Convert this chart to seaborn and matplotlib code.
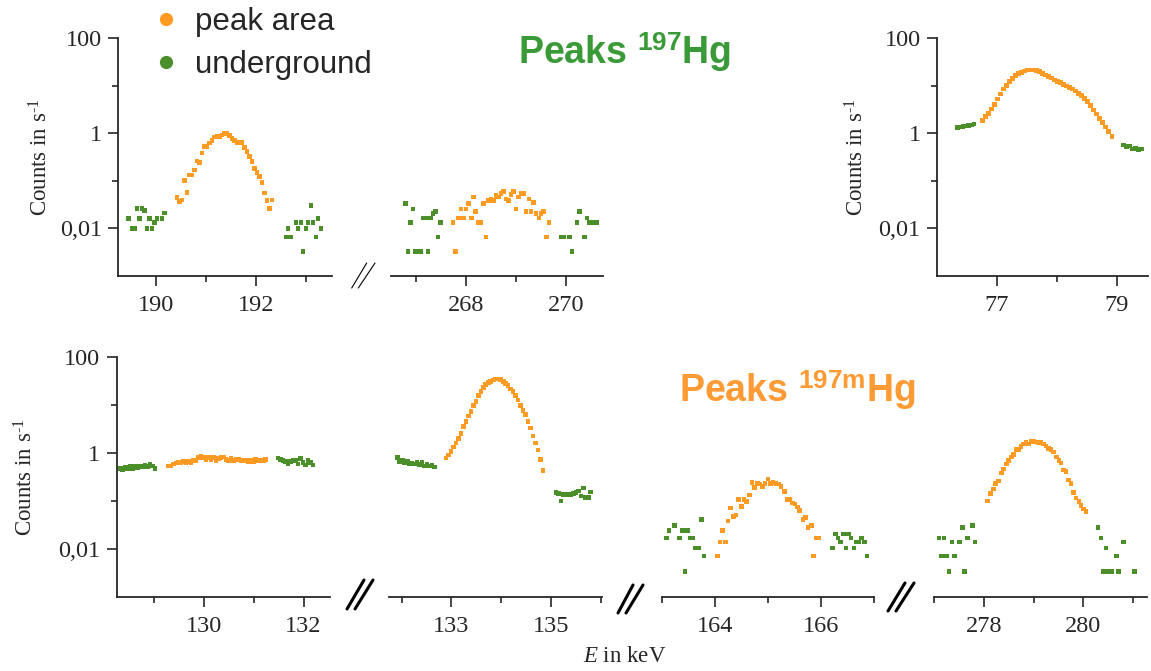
import numpy as np
import pandas as pd
import matplotlib
matplotlib.use("Agg")
import matplotlib.pyplot as plt
import seaborn as sns
from matplotlib.ticker import FixedLocator, FixedFormatter, NullFormatter
from matplotlib.lines import Line2D

# ---------------- data (energies in keV, log10 of count rate in 1/s) ----------------
# Panel 1: 197Hg, 191 keV
p1_bgL_E = [189.45, 189.52, 189.57, 189.62, 189.67, 189.72, 189.77, 189.82, 189.87, 189.92, 189.97, 190.02, 190.12, 190.17]
p1_bgL_lg = [-1.79, -2.0, -2.0, -1.58, -1.79, -1.58, -1.63, -2.0, -1.79, -2.0, -1.87, -1.79, -1.79, -1.68]
p1_pk_E = [190.42, 190.47, 190.52, 190.57, 190.62, 190.67, 190.72, 190.77, 190.82, 190.87, 190.92, 190.97, 191.02,
           191.07, 191.12, 191.17, 191.22, 191.27, 191.32, 191.37, 191.42, 191.47, 191.52, 191.57, 191.62, 191.67,
           191.72, 191.77, 191.82, 191.87, 191.92, 191.97, 192.02, 192.07, 192.12, 192.17, 192.22, 192.27, 192.32]
p1_pk_lg = [-1.35, -1.44, -1.40, -1.00, -1.24, -0.88, -0.88, -0.77, -0.58, -0.61, -0.42, -0.28, -0.28, -0.21, -0.15,
            -0.08, -0.07, -0.07, -0.04, 0.0, 0.0, -0.05, -0.11, -0.15, -0.20, -0.20, -0.20, -0.30, -0.39, -0.49,
            -0.60, -0.74, -0.82, -0.91, -1.04, -1.26, -1.42, -1.58, -1.40]
p1_bgR_E = [192.60, 192.64, 192.69, 192.80, 192.84, 192.90, 192.94, 193.00, 193.04, 193.10, 193.14, 193.20, 193.24, 193.30]
p1_bgR_lg = [-2.18, -2.0, -2.18, -1.87, -2.0, -1.87, -2.48, -2.0, -1.87, -1.52, -1.87, -2.18, -1.79, -2.0]

# Panel 2: 197Hg, 269 keV
p2_bgL_E = [266.79, 266.84, 266.89, 266.94, 266.99, 267.04, 267.09, 267.14, 267.19, 267.24, 267.29, 267.34, 267.39, 267.44, 267.49]
p2_bgL_lg = [-1.48, -2.48, -1.87, -1.59, -2.48, -2.48, -2.48, -1.78, -1.78, -2.48, -1.78, -1.69, -1.64, -2.18, -1.87]
p2_pk_E = [267.74, 267.79, 267.85, 267.90, 267.95, 268.00, 268.05, 268.11, 268.15, 268.19, 268.25, 268.30, 268.35,
           268.40, 268.45, 268.50, 268.55, 268.60, 268.65, 268.70, 268.75, 268.80, 268.85, 268.90, 268.95, 269.00,
           269.05, 269.10, 269.15, 269.20, 269.26, 269.30, 269.35, 269.40, 269.46, 269.50, 269.55, 269.61, 269.66]
p2_pk_lg = [-1.87, -2.48, -1.78, -1.59, -1.78, -1.59, -1.48, -1.78, -1.34, -1.64, -1.87, -1.87, -1.48, -2.18, -1.41,
            -1.38, -1.41, -1.31, -1.34, -1.27, -1.22, -1.38, -1.41, -1.29, -1.22, -1.59, -1.34, -1.27, -1.27, -1.64,
            -1.38, -1.64, -1.45, -1.69, -1.78, -1.69, -1.64, -2.18, -1.87]
p2_bgR_E = [269.91, 269.96, 270.07, 270.12, 270.22, 270.27, 270.37, 270.42, 270.47, 270.56, 270.61]
p2_bgR_lg = [-2.18, -2.18, -2.18, -2.48, -1.87, -1.64, -2.18, -1.78, -1.87, -1.87, -1.87]

# Panel 3: 197Hg, 77 keV
p3_bgL_E = [76.35, 76.40, 76.44, 76.49, 76.53, 76.58, 76.62]
p3_bgL_lg = [0.12, 0.13, 0.14, 0.15, 0.16, 0.17, 0.19]
p3_pk_E = [76.76, 76.81, 76.86, 76.91, 76.96, 77.01, 77.06, 77.11, 77.16, 77.21, 77.26, 77.31, 77.36, 77.41, 77.46,
           77.51, 77.56, 77.61, 77.66, 77.71, 77.76, 77.81, 77.86, 77.91, 77.96, 78.01, 78.06, 78.11, 78.16, 78.21,
           78.26, 78.31, 78.36, 78.41, 78.46, 78.51, 78.56, 78.61, 78.66, 78.71, 78.76, 78.81, 78.86, 78.92]
p3_pk_lg = [0.27, 0.35, 0.42, 0.51, 0.60, 0.72, 0.82, 0.93, 1.00, 1.09, 1.15, 1.21, 1.25, 1.28, 1.31, 1.33, 1.33,
            1.33, 1.32, 1.29, 1.26, 1.22, 1.19, 1.16, 1.12, 1.09, 1.06, 1.02, 0.99, 0.96, 0.93, 0.89, 0.84, 0.79,
            0.73, 0.66, 0.58, 0.49, 0.40, 0.31, 0.22, 0.13, 0.04, -0.07]
p3_bgR_E = [79.11, 79.16, 79.21, 79.26, 79.31, 79.36, 79.41]
p3_bgR_lg = [-0.25, -0.28, -0.27, -0.33, -0.32, -0.34, -0.33]

# Panel 4: 197mHg, 130 keV
p4_bgL_E = [128.32, 128.37, 128.42, 128.47, 128.52, 128.57, 128.62, 128.67, 128.72, 128.77, 128.82, 128.87, 128.92, 128.97, 129.02]
p4_bgL_lg = [-0.32, -0.35, -0.30, -0.32, -0.28, -0.32, -0.28, -0.30, -0.27, -0.28, -0.25, -0.28, -0.23, -0.27, -0.32]
p4_pk_E = [129.29, 129.34, 129.39, 129.44, 129.49, 129.54, 129.59, 129.64, 129.69, 129.74, 129.79, 129.84, 129.89,
           129.94, 129.99, 130.04, 130.09, 130.14, 130.19, 130.24, 130.29, 130.34, 130.39, 130.44, 130.49, 130.54,
           130.59, 130.64, 130.69, 130.74, 130.79, 130.84, 130.89, 130.94, 130.99, 131.04, 131.09, 131.14, 131.19, 131.24]
p4_pk_lg = [-0.27, -0.27, -0.23, -0.21, -0.20, -0.21, -0.18, -0.20, -0.18, -0.20, -0.16, -0.16, -0.09, -0.06, -0.09,
            -0.13, -0.09, -0.13, -0.09, -0.15, -0.11, -0.09, -0.08, -0.13, -0.16, -0.11, -0.16, -0.14, -0.13, -0.16,
            -0.16, -0.15, -0.18, -0.16, -0.18, -0.14, -0.16, -0.15, -0.15, -0.13]
p4_bgR_E = [131.49, 131.54, 131.59, 131.64, 131.69, 131.74, 131.79, 131.84, 131.89, 131.94, 131.99, 132.04, 132.09, 132.14, 132.19]
p4_bgR_lg = [-0.10, -0.13, -0.15, -0.17, -0.22, -0.18, -0.16, -0.16, -0.23, -0.11, -0.20, -0.25, -0.15, -0.20, -0.25]

# Panel 5: 197mHg, 134 keV
p5_bgL_E = [131.91, 131.96, 132.01, 132.06, 132.11, 132.16, 132.21, 132.26, 132.31, 132.36, 132.41, 132.46, 132.51, 132.56, 132.61, 132.66]
p5_bgL_lg = [-0.09, -0.18, -0.16, -0.21, -0.18, -0.23, -0.21, -0.23, -0.20, -0.24, -0.20, -0.27, -0.23, -0.27, -0.25, -0.29]
p5_pk_E = [132.89, 132.94, 132.99, 133.04, 133.09, 133.14, 133.19, 133.24, 133.29, 133.34, 133.39, 133.44, 133.49,
           133.54, 133.59, 133.64, 133.69, 133.74, 133.79, 133.84, 133.89, 133.94, 133.99, 134.04, 134.09, 134.14,
           134.19, 134.24, 134.29, 134.34, 134.39, 134.44, 134.49, 134.54, 134.59, 134.64, 134.69, 134.74, 134.79, 134.84]
p5_pk_lg = [-0.10, -0.04, 0.03, 0.13, 0.21, 0.31, 0.41, 0.55, 0.66, 0.77, 0.87, 0.99, 1.08, 1.20, 1.29, 1.37, 1.43,
            1.47, 1.50, 1.53, 1.55, 1.55, 1.54, 1.50, 1.45, 1.41, 1.34, 1.29, 1.20, 1.11, 0.99, 0.89, 0.80, 0.66,
            0.52, 0.36, 0.21, 0.06, -0.14, -0.37]
p5_bgR_E = [135.10, 135.15, 135.20, 135.25, 135.30, 135.35, 135.40, 135.45, 135.50, 135.55, 135.60, 135.65, 135.70, 135.75, 135.80]
p5_bgR_lg = [-0.83, -0.84, -1.00, -0.86, -0.87, -0.87, -0.86, -0.84, -0.83, -0.79, -0.90, -0.73, -0.93, -0.93, -0.81]

# Panel 6: 197mHg, 165 keV
p6_bgL_E = [163.09, 163.14, 163.24, 163.34, 163.39, 163.44, 163.49, 163.54, 163.59, 163.64, 163.69, 163.75, 163.80]
p6_bgL_lg = [-1.77, -1.62, -1.51, -1.77, -1.62, -2.47, -1.62, -1.77, -1.77, -1.98, -1.98, -1.39, -2.15]
p6_pk_E = [164.05, 164.10, 164.15, 164.20, 164.25, 164.30, 164.35, 164.40, 164.45, 164.50, 164.55, 164.60, 164.65,
           164.70, 164.75, 164.80, 164.85, 164.90, 164.95, 165.00, 165.05, 165.10, 165.15, 165.20, 165.25, 165.31,
           165.36, 165.41, 165.46, 165.51, 165.56, 165.60, 165.66, 165.71, 165.76, 165.82, 165.86, 165.91, 165.96]
p6_pk_lg = [-2.15, -1.86, -1.62, -1.86, -1.42, -1.15, -1.32, -1.29, -0.97, -1.11, -0.97, -1.01, -0.88, -0.61, -0.72,
            -0.63, -0.65, -0.70, -0.63, -0.54, -0.63, -0.61, -0.63, -0.65, -0.70, -0.80, -0.97, -0.97, -1.04, -1.06,
            -1.13, -1.20, -1.39, -1.34, -1.56, -1.51, -2.15, -1.77, -1.77]
p6_bgR_E = [166.22, 166.27, 166.32, 166.37, 166.42, 166.47, 166.52, 166.57, 166.62, 166.67, 166.72, 166.77, 166.82, 166.87]
p6_bgR_lg = [-1.98, -1.69, -1.77, -1.86, -1.69, -1.98, -1.69, -1.77, -1.98, -1.86, -1.86, -1.77, -1.86, -2.15]

# Panel 7: 197mHg, 279 keV
p7_bgL_E = [277.10, 277.15, 277.20, 277.25, 277.30, 277.36, 277.41, 277.51, 277.57, 277.61, 277.67, 277.77, 277.82]
p7_bgL_lg = [-1.77, -2.15, -1.77, -2.15, -2.47, -1.86, -2.15, -1.86, -1.56, -2.47, -1.77, -1.51, -1.86]
p7_pk_E = [278.08, 278.14, 278.19, 278.24, 278.30, 278.35, 278.39, 278.45, 278.50, 278.55, 278.60, 278.65, 278.70,
           278.75, 278.80, 278.85, 278.90, 278.95, 279.00, 279.05, 279.10, 279.15, 279.20, 279.25, 279.30, 279.35,
           279.40, 279.46, 279.51, 279.55, 279.60, 279.65, 279.70, 279.75, 279.80, 279.85, 279.91, 279.95, 280.00, 280.05]
p7_pk_lg = [-1.0, -0.85, -0.75, -0.63, -0.58, -0.42, -0.33, -0.23, -0.15, -0.08, -0.03, 0.07, 0.08, 0.14, 0.19, 0.22,
            0.19, 0.24, 0.24, 0.23, 0.22, 0.22, 0.19, 0.15, 0.10, 0.07, 0.02, -0.08, -0.15, -0.21, -0.35, -0.38,
            -0.56, -0.64, -0.83, -0.94, -1.01, -1.10, -1.17, -1.22]
p7_bgR_E = [280.29, 280.35, 280.40, 280.45, 280.50, 280.56, 280.66, 280.70, 280.81, 281.02]
p7_bgR_lg = [-1.56, -1.77, -2.47, -1.98, -2.47, -2.47, -2.15, -2.47, -1.86, -2.47]

# tick values / labels
p1_major, p1_minor = [190, 192], [191, 193]
p2_major, p2_minor = [268, 270], [267, 269]
p3_major, p3_minor = [77, 79], [78]
p4_major, p4_minor = [130, 132], [129, 131]
p5_major, p5_minor = [133, 135], [132, 134, 136]
p6_major, p6_minor = [164, 166], [163, 165, 167]
p7_major, p7_minor = [278, 280], [277, 279, 281]
y_major = [0.01, 1, 100]
y_major_labels = ["0,01", "1", "100"]
y_minor = [0.1, 10]
legend_labels = ["peak area", "underground"]
title_top = r"Peaks $^{\mathbf{197}}$Hg"
title_bottom = r"Peaks $^{\mathbf{197m}}$Hg"
y_label = r"Counts in s$^{\text{-1}}$"

# ---------------- style ----------------
sns.set_style("ticks")
SERIF = "Liberation Serif"
plt.rcParams.update({
    "font.family": [SERIF, "DejaVu Serif"],
    "font.serif": [SERIF, "DejaVu Serif"],
    "mathtext.fontset": "custom",
    "mathtext.rm": SERIF,
    "mathtext.it": SERIF + ":italic",
    "mathtext.bf": "Liberation Sans:bold",
    "axes.linewidth": 1.2,
    "xtick.direction": "out",
    "ytick.direction": "out",
})

C_PEAK = "#FF9A22"
C_BG = "#4A8F2A"
C_TITLE_G = "#3A9A38"
C_TITLE_O = "#FF9A35"
palette = {"peak area": C_PEAK, "underground": C_BG}

W, H = 1151, 671
fig = plt.figure(figsize=(W / 100, H / 100), dpi=100)


def px_rect(x0, x1, ytop, ybot):
    return [x0 / W, 1 - ybot / H, (x1 - x0) / W, (ybot - ytop) / H]


def make_df(bgL_E, bgL_lg, pk_E, pk_lg, bgR_E, bgR_lg):
    E = list(bgL_E) + list(pk_E) + list(bgR_E)
    lg = list(bgL_lg) + list(pk_lg) + list(bgR_lg)
    reg = ["underground"] * len(bgL_E) + ["peak area"] * len(pk_E) + ["underground"] * len(bgR_E)
    return pd.DataFrame({"E": E, "rate": np.power(10.0, lg), "region": reg})


panels = [
    dict(df=make_df(p1_bgL_E, p1_bgL_lg, p1_pk_E, p1_pk_lg, p1_bgR_E, p1_bgR_lg), rect=px_rect(118, 332, 38, 276),
         xlim=(189.24, 193.52), major=p1_major, minor=p1_minor, yaxis=True, lab=-0.308, ypad=4.0),
    dict(df=make_df(p2_bgL_E, p2_bgL_lg, p2_pk_E, p2_pk_lg, p2_bgR_E, p2_bgR_lg), rect=px_rect(390.7, 603, 38, 276),
         xlim=(266.49, 270.74), major=p2_major, minor=p2_minor, yaxis=False),
    dict(df=make_df(p3_bgL_E, p3_bgL_lg, p3_pk_E, p3_pk_lg, p3_bgR_E, p3_bgR_lg), rect=px_rect(936.7, 1148, 38, 276),
         xlim=(76.0, 79.52), major=p3_major, minor=p3_minor, yaxis=True, lab=-0.325, ypad=4.0),
    dict(df=make_df(p4_bgL_E, p4_bgL_lg, p4_pk_E, p4_pk_lg, p4_bgR_E, p4_bgR_lg), rect=px_rect(117.3, 330, 357.3, 596.7),
         xlim=(128.26, 132.53), major=p4_major, minor=p4_minor, yaxis=True, lab=-0.373, ypad=5.0),
    dict(df=make_df(p5_bgL_E, p5_bgL_lg, p5_pk_E, p5_pk_lg, p5_bgR_E, p5_bgR_lg), rect=px_rect(389.3, 601.7, 357.3, 596.7),
         xlim=(131.75, 136.02), major=p5_major, minor=p5_minor, yaxis=False),
    dict(df=make_df(p6_bgL_E, p6_bgL_lg, p6_pk_E, p6_pk_lg, p6_bgR_E, p6_bgR_lg), rect=px_rect(661.7, 874, 357.3, 596.7),
         xlim=(163.0, 167.0), major=p6_major, minor=p6_minor, yaxis=False),
    dict(df=make_df(p7_bgL_E, p7_bgL_lg, p7_pk_E, p7_pk_lg, p7_bgR_E, p7_bgR_lg), rect=px_rect(934, 1146.7, 357.3, 596.7),
         xlim=(277.0, 281.27), major=p7_major, minor=p7_minor, yaxis=False),
]

TICK_FS = 17.5
LABEL_FS = 16.5
for p in panels:
    ax = fig.add_axes(p["rect"])
    ax.set_yscale("log")
    sns.scatterplot(data=p["df"], x="E", y="rate", hue="region", palette=palette,
                    marker="s", s=11, linewidth=0, legend=False, ax=ax, clip_on=False)
    ax.set_xlim(*p["xlim"])
    ax.set_ylim(1e-3, 100)
    ax.set_xlabel("")
    ax.set_ylabel("")
    ax.patch.set_alpha(0)
    for s in ("top", "right"):
        ax.spines[s].set_visible(False)
    ax.spines["bottom"].set_linewidth(1.3)
    ax.xaxis.set_major_locator(FixedLocator(p["major"]))
    ax.xaxis.set_major_formatter(FixedFormatter([str(v) for v in p["major"]]))
    ax.xaxis.set_minor_locator(FixedLocator(p["minor"]))
    ax.xaxis.set_minor_formatter(NullFormatter())
    ax.tick_params(axis="x", which="major", length=7.5, width=1.2, pad=6.5, labelsize=TICK_FS,
                   labelfontfamily=SERIF)
    ax.tick_params(axis="x", which="minor", length=4.2, width=1.2)
    if p["yaxis"]:
        ax.spines["left"].set_linewidth(1.3)
        ax.yaxis.set_major_locator(FixedLocator(y_major))
        ax.yaxis.set_major_formatter(FixedFormatter(y_major_labels))
        ax.yaxis.set_minor_locator(FixedLocator(y_minor))
        ax.yaxis.set_minor_formatter(NullFormatter())
        ax.tick_params(axis="y", which="major", length=7.5, width=1.2, pad=p["ypad"], labelsize=TICK_FS,
                       labelfontfamily=SERIF)
        ax.tick_params(axis="y", which="minor", length=4.2, width=1.2)
        ax.set_ylabel(y_label, fontsize=LABEL_FS, family=SERIF)
        ax.yaxis.set_label_coords(p["lab"], 0.5)
    else:
        ax.spines["left"].set_visible(False)
        ax.tick_params(axis="y", which="both", left=False, labelleft=False)

# axis-break marks (decoration)
def brk(pairs, lw):
    for (x0, y0, x1, y1) in pairs:
        fig.add_artist(Line2D([x0 / W, x1 / W], [1 - y0 / H, 1 - y1 / H], color="black", lw=lw,
                              transform=fig.transFigure))

brk([(351.7, 288, 366.7, 263), (358.3, 288, 375, 263)], 0.8)
brk([(347, 609, 364, 580), (355, 609, 373, 580)], 2.2)
brk([(618, 613, 633, 585), (626, 613, 643, 585)], 2.2)
brk([(888, 611, 905, 583), (896, 611, 914, 583)], 2.2)

# titles
fig.text(625 / W, 1 - 52 / H, title_top, color=C_TITLE_G, fontsize=27, fontweight="bold",
         family="Liberation Sans", ha="center", va="center")
fig.text(797 / W, 1 - 390 / H, title_bottom, color=C_TITLE_O, fontsize=27, fontweight="bold",
         family="Liberation Sans", ha="center", va="center")

# x label
fig.text(625 / W, 1 - 657 / H, r"$E$ in keV", fontsize=LABEL_FS, family=SERIF, ha="center", va="center")

# legend
handles = [Line2D([], [], marker="o", linestyle="", markersize=8.5, color=palette[l]) for l in legend_labels]
fig.legend(handles, legend_labels, loc="upper left", bbox_to_anchor=(150 / W, 1 - 7 / H), frameon=False,
           prop={"family": "Liberation Sans", "size": 22.5}, handlelength=1.0, handletextpad=0.45,
           labelspacing=0.42, borderpad=0.0, borderaxespad=0.0)

fig.savefig("out.png", dpi=100)
